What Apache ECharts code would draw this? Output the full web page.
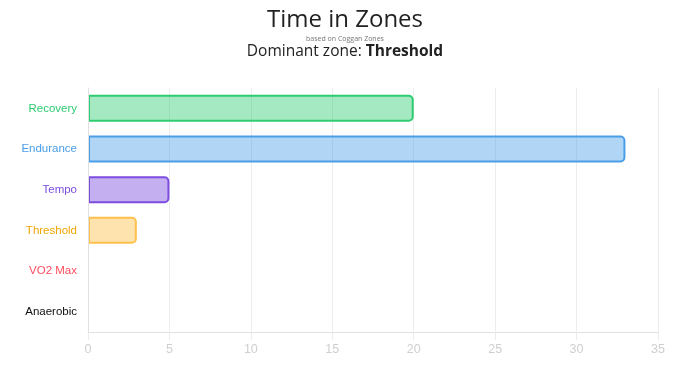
<!DOCTYPE html>
<html>
<head>
<meta charset="utf-8">
<script src="https://cdn.jsdelivr.net/npm/echarts@6/dist/echarts.min.js"></script>
<style>
  html, body { margin: 0; padding: 0; background: #fff; }
  #chart { width: 690px; height: 376px; }
</style>
</head>
<body>
<div id="chart"></div>
<script>
var zones = ['Recovery', 'Endurance', 'Tempo', 'Threshold', 'VO2 Max', 'Anaerobic'];
var minutes = [20, 33, 5, 3, 0, 0];
var labelColors = ['#2ecc71', '#4a9ee8', '#7c4ddf', '#f0a500', '#ff4d5e', '#111111'];
var fillColors = ['rgba(46,204,113,0.43)', 'rgba(74,158,232,0.43)', 'rgba(124,77,223,0.45)', 'rgba(255,192,77,0.45)', 'rgba(255,77,94,0.43)', 'rgba(0,0,0,0.3)'];
var borderColors = ['#2ecc71', '#4a9ee8', '#7c4ddf', '#ffc04d', '#ff4d5e', '#111111'];
var xTicks = [0, 35, 5];

var chart = echarts.init(document.getElementById('chart'));

// bars with their own colours, flat at the axis side
var barData = [];
for (var i = 0; i < minutes.length; i++) {
  barData.push({
    value: minutes[i],
    itemStyle: {
      color: fillColors[i],
      borderColor: borderColors[i],
      borderWidth: minutes[i] > 0 ? 2 : 0,
      borderRadius: [0, 4, 4, 0]
    }
  });
}

var option = {
  animation: false,
  title: [
    {
      text: 'Time in Zones',
      left: 'center', top: 3,
      textStyle: { fontFamily: 'Open Sans', fontSize: 24, fontWeight: 'normal', color: '#222' }
    },
    {
      text: 'based on Coggan Zones',
      left: 'center', top: 30,
      textStyle: { fontFamily: 'Open Sans', fontSize: 7, fontWeight: 'normal', color: '#777' }
    },
    {
      text: 'Dominant zone: {b|Threshold}',
      left: 'center', top: 39,
      textStyle: {
        fontFamily: 'Open Sans', fontSize: 15.5, fontWeight: 'normal', color: '#222',
        rich: { b: { fontFamily: 'Open Sans', fontSize: 15.5, fontWeight: 'bold', color: '#222' } }
      }
    }
  ],
  grid: { left: 88, right: 32, top: 88, bottom: 44 },
  xAxis: {
    type: 'value',
    min: xTicks[0], max: xTicks[1], interval: xTicks[2],
    axisLine: { show: true, lineStyle: { color: '#e0e0e0' } },
    axisTick: { show: true, length: 8, lineStyle: { color: '#ececec' } },
    splitLine: { show: true, lineStyle: { color: '#ececec' } },
    axisLabel: { color: '#cfcfcf', fontFamily: 'Liberation Sans', fontSize: 12.5, margin: 11 }
  },
  yAxis: {
    type: 'category',
    inverse: true,
    data: zones,
    z: 3,
    axisLine: { show: true, lineStyle: { color: '#e0e0e0' } },
    axisTick: { show: false },
    axisLabel: {
      fontFamily: 'Liberation Sans', fontSize: 11.5, margin: 11,
      color: function (v, idx) { return labelColors[idx]; }
    }
  },
  series: [{
    type: 'bar',
    barWidth: 27,
    data: barData
  }]
};

chart.setOption(option);
</script>
</body>
</html>
